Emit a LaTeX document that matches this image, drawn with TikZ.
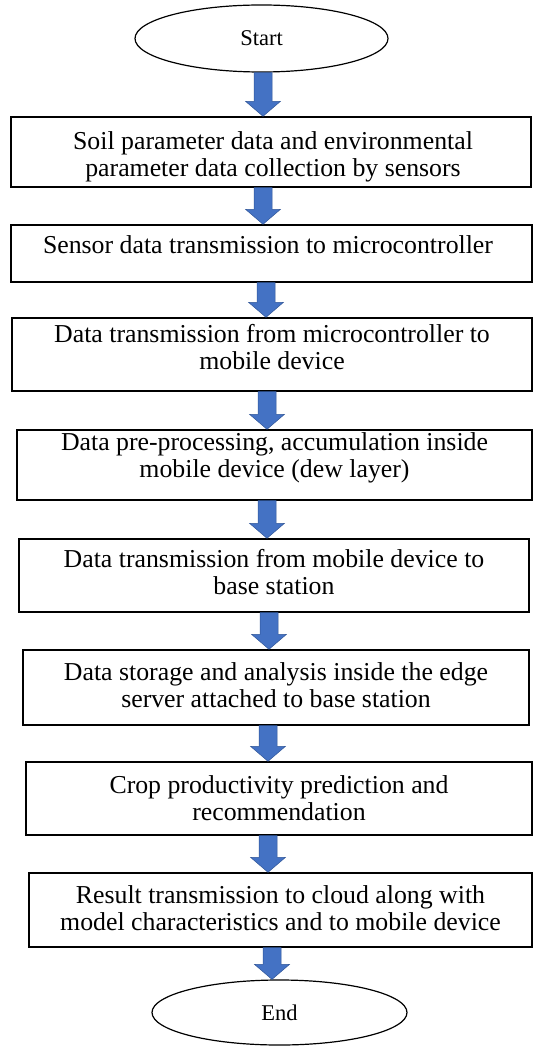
\documentclass[tikz,border=0pt]{standalone}
\usepackage{fontspec}
\setmainfont{Liberation Serif}
\usetikzlibrary{shapes.geometric,calc}
\definecolor{arrowblue}{HTML}{4472C4}
\definecolor{arrowedge}{HTML}{2F5597}
\tikzset{
  stepbox/.style={draw=black, line width=1.4pt, fill=white, inner sep=0pt},
  steptext/.style={align=center, font=\fontsize{25.8}{27}\selectfont, inner sep=0pt},
  terminal/.style={draw=black, line width=1.2pt, ellipse, inner sep=0pt,
                   font=\fontsize{22.5}{26}\selectfont},
  flow/.style={fill=arrowblue, draw=arrowedge, line width=0.5pt, line join=miter},
}
% block arrow at horizontal position #1 from the bottom of #2 to the top of #3
\newcommand\flowarrow[3]{%
  \path (#1,0 |- #2.south) coordinate (fs) (#1,0 |- #3.north) coordinate (fe);
  \draw[flow] ($(fs)+(-9,0)$) -- ($(fs)+(9,0)$) -- ($(fe)+(9,-15)$)
     -- ($(fe)+(17.5,-15)$) -- (fe) -- ($(fe)+(-17.5,-15)$)
     -- ($(fe)+(-9,-15)$) -- cycle;%
}
\begin{document}
\begin{tikzpicture}[x=1pt, y=-1pt]
\useasboundingbox (0,0) rectangle (533,1048);

% terminals
\node[terminal, minimum width=253pt, minimum height=67pt] (start) at (261.5,38.5) {Start};
\node[terminal, minimum width=255pt, minimum height=65pt] (end) at (279.5,1012.5) {End};

% process boxes
\node[stepbox, minimum width=520pt, minimum height=70pt] (b1) at (271,152) {};
\node[stepbox, minimum width=521pt, minimum height=57pt] (b2) at (271.5,253.5) {};
\node[stepbox, minimum width=520pt, minimum height=73pt] (b3) at (272,354.5) {};
\node[stepbox, minimum width=515pt, minimum height=70pt] (b4) at (274.5,465) {};
\node[stepbox, minimum width=510pt, minimum height=73pt] (b5) at (274,575.5) {};
\node[stepbox, minimum width=506pt, minimum height=75pt] (b6) at (276,687.5) {};
\node[stepbox, minimum width=506pt, minimum height=73pt] (b7) at (279,798.5) {};
\node[stepbox, minimum width=503pt, minimum height=74pt] (b8) at (280.5,910) {};

% box labels
\node[steptext] (t1) at (273,156.5) {Soil parameter data and environmental\\parameter data collection by sensors};
\node[steptext] (t2) at (268,245) {Sensor data transmission to microcontroller};
\node[steptext] (t3) at (272,347.5) {Data transmission from microcontroller to\\mobile device};
\node[steptext] (t4) at (274.5,457.5) {Data pre-processing, accumulation inside\\mobile device (dew layer)};
\node[steptext] (t5) at (274,572) {Data transmission from mobile device to\\base station};
\node[steptext] (t6) at (276,685) {Data storage and analysis inside the edge\\server attached to base station};
\node[steptext] (t7) at (279,798.5) {Crop productivity prediction and\\recommendation};
\node[steptext] (t8) at (280.5,908.5) {Result transmission to cloud along with\\model characteristics and to mobile device};

% flow arrows
\flowarrow{263}{start}{b1}
\flowarrow{263}{b1}{b2}
\flowarrow{266}{b2}{b3}
\flowarrow{267}{b3}{b4}
\flowarrow{267}{b4}{b5}
\flowarrow{269}{b5}{b6}
\flowarrow{268}{b6}{b7}
\flowarrow{268}{b7}{b8}
\flowarrow{272}{b8}{end}
\end{tikzpicture}
\end{document}
